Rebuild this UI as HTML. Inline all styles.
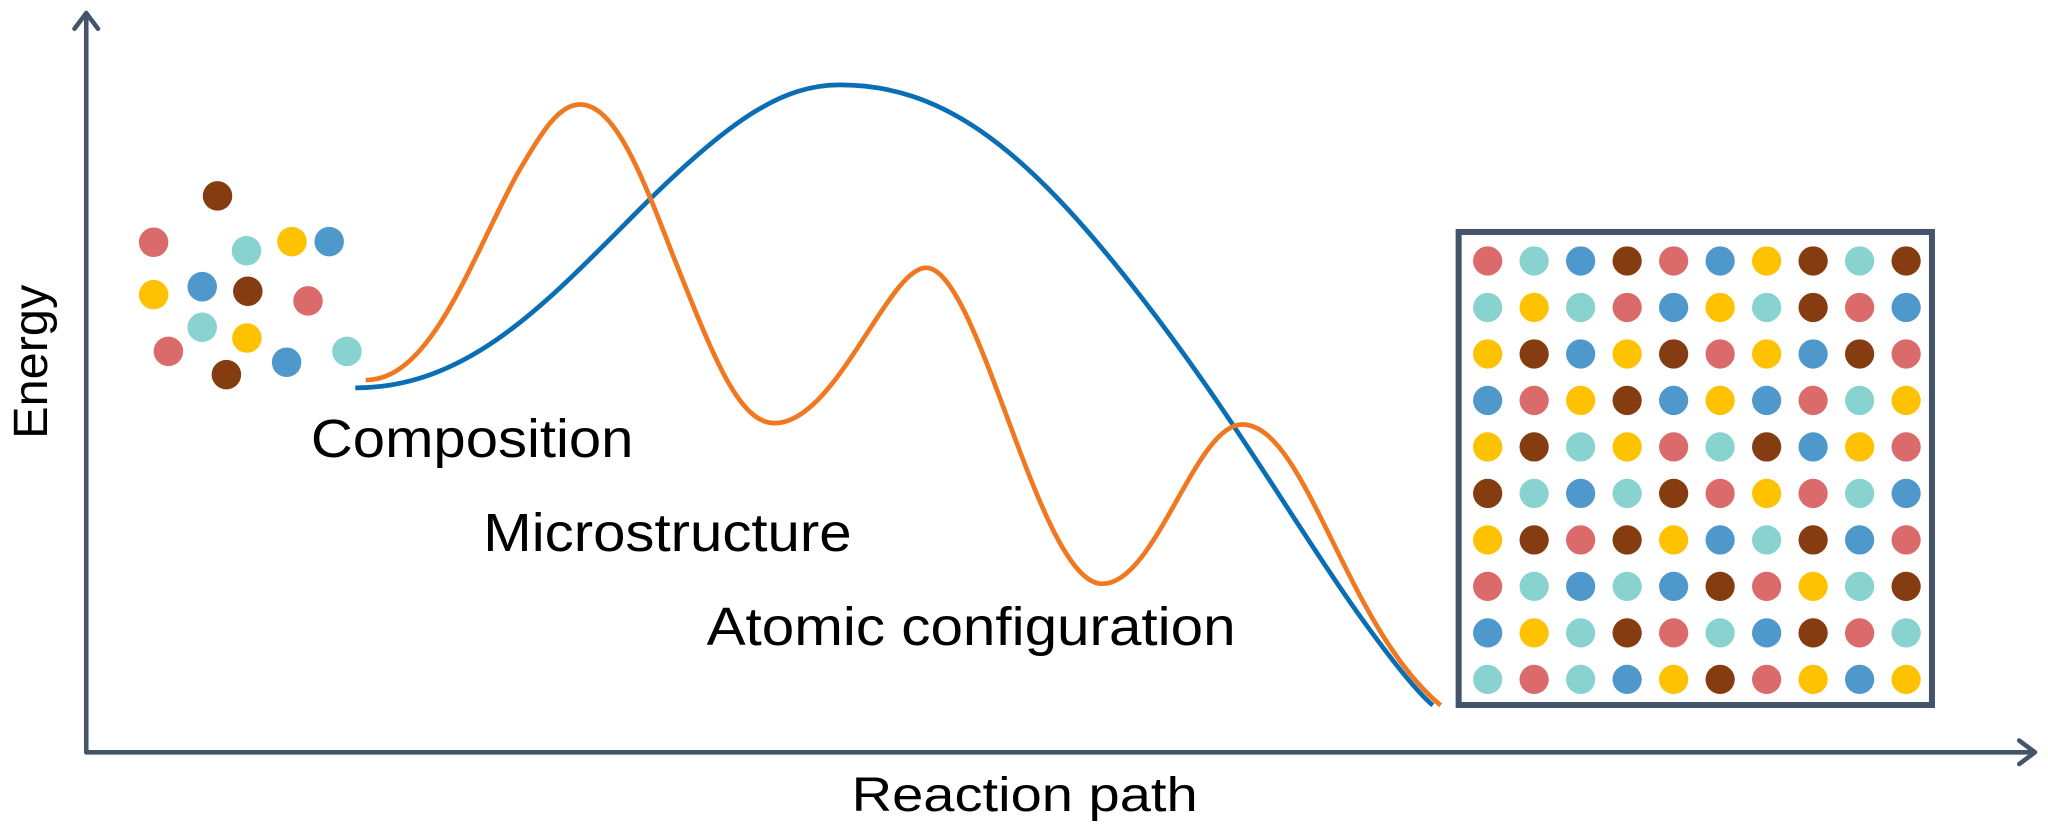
<!DOCTYPE html>
<html><head><meta charset="utf-8"><style>
html,body{margin:0;padding:0;background:#fff;}
svg{display:block;}
text{font-family:"Liberation Sans",sans-serif;fill:#000;}
</style></head><body>
<svg width="2048" height="830" viewBox="0 0 1568 635.5" xmlns="http://www.w3.org/2000/svg">
<rect width="1568" height="635.5" fill="#fff"/>
<g stroke="#44546A" stroke-width="3.5" fill="none" stroke-linecap="round" stroke-linejoin="round">
<line x1="66" y1="10" x2="66" y2="576"/>
<polyline points="57,22 66,10 75,22"/>
<line x1="66" y1="576" x2="1558" y2="576"/>
<polyline points="1546,567 1558,576 1546,585"/>
</g>
<path d="M272,297 C360,297 420,230 490,160 C560,90 600,65 643,65 C720,65 780,110 860,210 C940,310 990,400 1040,470 C1065,505 1085,530 1097,540" fill="none" stroke="#0A6EB4" stroke-width="3.6"/>
<path d="M280,291 C330,291 360,200 395,135 C415,100 428,80 444,80 C470,80 490,130 515,195 C545,270 565,324 593,324 C640,324 680,205 709,205 C750,205 795,447 844,447 C885,447 915,325 951,325 C1000,325 1030,480 1103,540" fill="none" stroke="#F07820" stroke-width="3.6"/>
<g>
<circle cx="166.5" cy="150" r="11.3" fill="#843C10"/>
<circle cx="117.6" cy="185.5" r="11.3" fill="#DB6B6B"/>
<circle cx="188.7" cy="192" r="11.3" fill="#88D2CF"/>
<circle cx="223.5" cy="185" r="11.3" fill="#FFC200"/>
<circle cx="252" cy="185" r="11.3" fill="#4F98CB"/>
<circle cx="117.6" cy="225.6" r="11.3" fill="#FFC200"/>
<circle cx="154.8" cy="219.5" r="11.3" fill="#4F98CB"/>
<circle cx="189.7" cy="223" r="11.3" fill="#843C10"/>
<circle cx="235.8" cy="230.4" r="11.3" fill="#DB6B6B"/>
<circle cx="154.8" cy="250.6" r="11.3" fill="#88D2CF"/>
<circle cx="189" cy="258.8" r="11.3" fill="#FFC200"/>
<circle cx="128.9" cy="269" r="11.3" fill="#DB6B6B"/>
<circle cx="173.3" cy="286.8" r="11.3" fill="#843C10"/>
<circle cx="219.4" cy="277.4" r="11.3" fill="#4F98CB"/>
<circle cx="265.6" cy="269" r="11.3" fill="#88D2CF"/>
</g>
<rect x="1116.8" y="177.6" width="362.4" height="362.2" fill="#fff" stroke="#44546A" stroke-width="4.6"/>
<g id="grid"></g>
<text x="238" y="350" font-size="41" textLength="247" lengthAdjust="spacingAndGlyphs">Composition</text>
<text x="370" y="422" font-size="41" textLength="282" lengthAdjust="spacingAndGlyphs">Microstructure</text>
<text x="541" y="494" font-size="41" textLength="405" lengthAdjust="spacingAndGlyphs">Atomic configuration</text>
<text x="652" y="621" font-size="37" textLength="265" lengthAdjust="spacingAndGlyphs">Reaction path</text>
<text transform="translate(36,336) rotate(-90)" font-size="37" textLength="118" lengthAdjust="spacingAndGlyphs">Energy</text>
</svg>
<script>
var rows=["RCBNRBYNCN","CYCRBYCNRB","YNBYNRYBNR","BRYNBYBRCY","YNCYRCNBYR","NCBCNRYRCB","YNRNYBCNBR","RCBCBNRYCN","BYCNRCBNRC","CRCBYNRYBY"];
var col={R:"#DB6B6B",C:"#88D2CF",B:"#4F98CB",N:"#843C10",Y:"#FFC200"};
var g=document.getElementById("grid"),ns="http://www.w3.org/2000/svg";
for(var r=0;r<10;r++)for(var c=0;c<10;c++){var e=document.createElementNS(ns,"circle");
e.setAttribute("cx",1139+c*35.6);e.setAttribute("cy",199.8+r*35.6);e.setAttribute("r",11.2);
e.setAttribute("fill",col[rows[r][c]]);g.appendChild(e);}
</script>
</body></html>
